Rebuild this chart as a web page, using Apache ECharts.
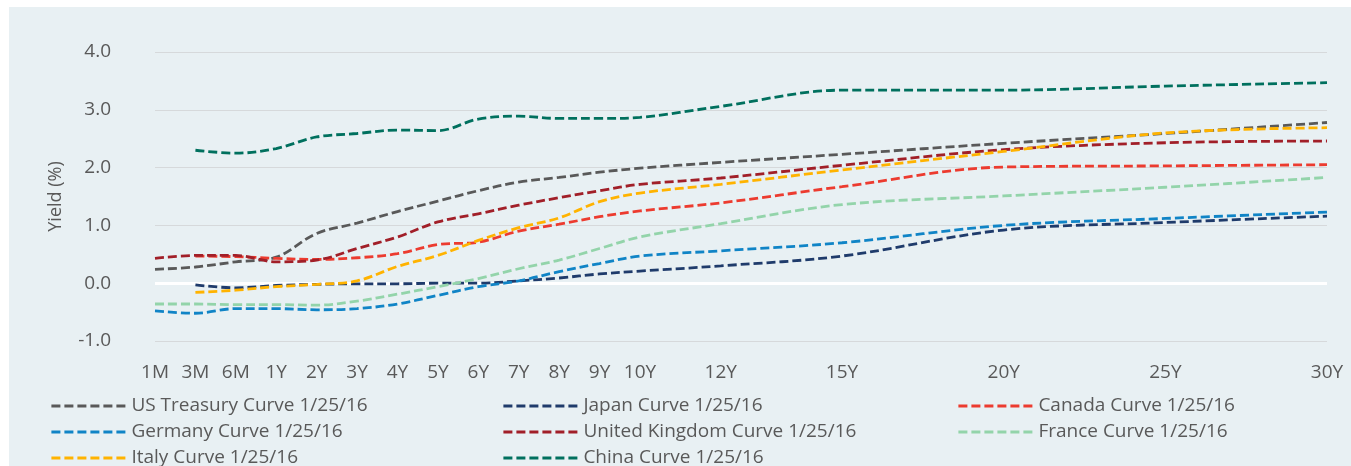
<!DOCTYPE html>
<html>
<head>
<meta charset="utf-8">
<script src="https://cdn.jsdelivr.net/npm/echarts@6/dist/echarts.min.js"></script>
<style>
  html, body { margin: 0; padding: 0; background: #ffffff; }
  #chart { position: absolute; left: 9px; top: 7px; width: 1342px; height: 459px; }
</style>
</head>
<body>
<div id="chart"></div>
<script>
// tenor slots on the axis; blanks keep the uneven spacing of the original
const categories = ['1M', '3M', '6M', '1Y', '2Y', '3Y', '4Y', '5Y', '6Y', '7Y', '8Y', '9Y', '10Y',
  '', '12Y', '', '', '15Y', '', '', '', '20Y', '', '', '', '25Y', '', '', '', '30Y'];

// one value per tenor label (1M ... 30Y)
const usTreasury = [0.24, 0.28, 0.37, 0.45, 0.86, 1.04, 1.24, 1.42, 1.60, 1.75, 1.83, 1.92, 1.99, 2.09, 2.23, 2.42, 2.59, 2.78];
const japan      = [null, -0.03, -0.08, -0.04, -0.02, -0.01, -0.01, 0.00, 0.00, 0.04, 0.09, 0.16, 0.21, 0.30, 0.47, 0.92, 1.05, 1.16];
const canada     = [null, 0.47, 0.46, 0.43, 0.41, 0.44, 0.51, 0.67, 0.71, 0.90, 1.02, 1.15, 1.25, 1.39, 1.67, 2.01, 2.03, 2.05];
const germany    = [-0.48, -0.52, -0.44, -0.44, -0.46, -0.44, -0.36, -0.21, -0.06, 0.04, 0.20, 0.34, 0.47, 0.56, 0.70, 1.00, 1.12, 1.23];
const uk         = [0.43, 0.48, 0.48, 0.37, 0.40, 0.60, 0.80, 1.06, 1.20, 1.35, 1.48, 1.60, 1.71, 1.82, 2.04, 2.31, 2.43, 2.46];
const france     = [-0.36, -0.36, -0.37, -0.37, -0.38, -0.31, -0.19, -0.06, 0.08, 0.25, 0.40, 0.60, 0.80, 1.03, 1.36, 1.51, 1.66, 1.83];
const italy      = [null, -0.16, -0.12, -0.06, -0.02, 0.04, 0.29, 0.48, 0.74, 0.96, 1.13, 1.41, 1.56, 1.71, 1.96, 2.28, 2.60, 2.69];
const china      = [null, 2.30, 2.25, 2.33, 2.53, 2.59, 2.65, 2.64, 2.84, 2.89, 2.85, 2.85, 2.87, 3.06, 3.34, 3.34, 3.41, 3.47];

const yTicks = [-1, 0, 1, 2, 3, 4];

const seriesDefs = [
  { name: 'US Treasury Curve 1/25/16', data: usTreasury, color: '#595959' },
  { name: 'Japan Curve 1/25/16', data: japan, color: '#1f3b6b' },
  { name: 'Canada Curve 1/25/16', data: canada, color: '#ec3b2f' },
  { name: 'Germany Curve 1/25/16', data: germany, color: '#1084c6' },
  { name: 'United Kingdom Curve 1/25/16', data: uk, color: '#a11f28' },
  { name: 'France Curve 1/25/16', data: france, color: '#93d4aa' },
  { name: 'Italy Curve 1/25/16', data: italy, color: '#ffb300' },
  { name: 'China Curve 1/25/16', data: china, color: '#00705e' }
];

// spread the per-tenor values over the axis slots
function toSlots(vals) {
  let k = 0;
  return categories.map(c => (c ? vals[k++] : null));
}

const textColor = '#595959';
const font = 'Open Sans';

const series = seriesDefs.map((s, i) => ({
  name: s.name,
  type: 'line',
  data: toSlots(s.data),
  connectNulls: true,
  smooth: 0.35,
  symbol: 'none',
  color: s.color,
  lineStyle: { width: 2.8, type: [9, 4], color: s.color },
  z: 3,
  markLine: i === 0 ? {
    silent: true,
    symbol: 'none',
    label: { show: false },
    lineStyle: { color: '#ffffff', width: 3, type: 'solid' },
    data: [{ yAxis: 0 }],
    z: 2
  } : undefined
}));

function legendCol(left, names) {
  return {
    orient: 'vertical',
    left: left,
    top: 384,
    height: 120,
    itemWidth: 75,
    itemHeight: 14,
    itemGap: 6,
    itemStyle: { opacity: 0 },
    lineStyle: { width: 2.8 },
    data: names,
    textStyle: { color: textColor, fontFamily: font, fontSize: 19, lineHeight: 20 }
  };
}

const chart = echarts.init(document.getElementById('chart'), null, { renderer: 'canvas' });
chart.setOption({
  backgroundColor: '#e8f0f3',
  animation: false,
  grid: { left: 146, right: 24, top: 45, bottom: 125 },
  legend: [
    legendCol(36, [seriesDefs[0].name, seriesDefs[3].name, seriesDefs[6].name]),
    legendCol(488, [seriesDefs[1].name, seriesDefs[4].name, seriesDefs[7].name]),
    legendCol(943, [seriesDefs[2].name, seriesDefs[5].name])
  ],
  xAxis: {
    type: 'category',
    data: categories,
    boundaryGap: false,
    axisLine: { show: false },
    axisTick: { show: false },
    axisLabel: { interval: 0, color: textColor, fontFamily: font, fontSize: 19, margin: 22 },
    splitLine: { show: false }
  },
  yAxis: {
    type: 'value',
    min: yTicks[0],
    max: yTicks[yTicks.length - 1],
    interval: 1,
    name: 'Yield (%)',
    nameLocation: 'middle',
    nameGap: 90,
    nameTextStyle: { color: textColor, fontFamily: font, fontSize: 18 },
    axisLine: { show: false },
    axisTick: { show: false },
    axisLabel: {
      color: textColor, fontFamily: font, fontSize: 19, margin: 44,
      formatter: v => v.toFixed(1)
    },
    splitLine: { lineStyle: { color: '#d6d9db', width: 1 } }
  },
  series: series
});
</script>
</body>
</html>
